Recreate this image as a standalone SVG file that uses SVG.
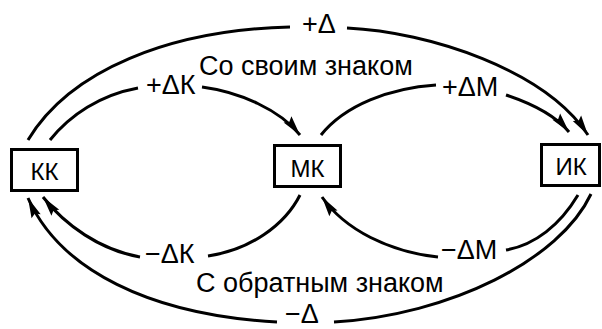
<svg xmlns="http://www.w3.org/2000/svg" width="602" height="329" viewBox="0 0 602 329">
  <style>
    .box { fill: #fff; stroke: #000; stroke-width: 3; }
    .node-label { font-family: "Liberation Sans", Arial, sans-serif; font-size: 24px; fill: #000; text-anchor: middle; }
    .label { font-family: "Liberation Sans", Arial, sans-serif; font-size: 27px; fill: #000; }
    .edge { fill: none; stroke: #000; stroke-width: 3; }
  </style>
  <defs>
    <marker id="arrow" markerUnits="userSpaceOnUse" markerWidth="22" markerHeight="12" refX="20" refY="5" orient="auto" overflow="visible">
      <path d="M0,0 L20,5 L0,10 L3,5 Z" fill="#000"/>
    </marker>
  </defs>
  <rect width="602" height="329" fill="#fff"/>

  <!-- connectors -->
  <g id="connectors">
    <!-- outer top: КК to ИК, +Δ -->
    <path class="edge" d="M28,140 C70,70 170,30 290,27"/>
    <path class="edge" d="M347,28 C430,32 545,70 588,135" marker-end="url(#arrow)"/>
    <!-- КК to МК, +ΔК -->
    <path class="edge" d="M50,140 C70,115 100,95 138,88"/>
    <path class="edge" d="M202,87 C240,92 280,110 300,135" marker-end="url(#arrow)"/>
    <!-- МК to ИК, +ΔМ -->
    <path class="edge" d="M321,135 C345,105 390,88 436,85"/>
    <path class="edge" d="M506,95 C530,103 555,115 569,132" marker-end="url(#arrow)"/>
    <!-- МК to КК, −ΔК -->
    <path class="edge" d="M300,195 C285,225 250,250 208,256"/>
    <path class="edge" d="M140,257 C100,250 65,225 43,197" marker-end="url(#arrow)"/>
    <!-- ИК to МК, −ΔМ -->
    <path class="edge" d="M578,195 C560,225 535,245 506,250"/>
    <path class="edge" d="M438,257 C390,252 345,230 322,197" marker-end="url(#arrow)"/>
    <!-- outer bottom: ИК to КК, −Δ -->
    <path class="edge" d="M591,194 C560,260 450,315 334,322"/>
    <path class="edge" d="M277,322 C150,315 60,270 28,198" marker-end="url(#arrow)"/>
  </g>

  <!-- nodes -->
  <g id="node-kk">
    <rect class="box" x="11.5" y="149.5" width="66" height="41"/>
    <text class="node-label" x="44.5" y="180">КК</text>
  </g>
  <g id="node-mk">
    <rect class="box" x="274.5" y="145.5" width="66" height="41"/>
    <text class="node-label" x="307.5" y="177">МК</text>
  </g>
  <g id="node-ik">
    <rect class="box" x="541.5" y="144.5" width="58" height="41"/>
    <text class="node-label" x="571" y="175">ИК</text>
  </g>

  <!-- labels -->
  <g id="labels">
    <text class="label" x="302" y="33">+Δ</text>
    <text class="label" x="146" y="94">+ΔК</text>
    <text class="label" x="199" y="75">Со своим знаком</text>
    <text class="label" x="442" y="96">+ΔМ</text>
    <text class="label" x="145" y="263">−ΔК</text>
    <text class="label" x="441" y="259">−ΔМ</text>
    <text class="label" x="196" y="292">С обратным знаком</text>
    <text class="label" x="285" y="323" font-size="26">−Δ</text>
  </g>
</svg>
